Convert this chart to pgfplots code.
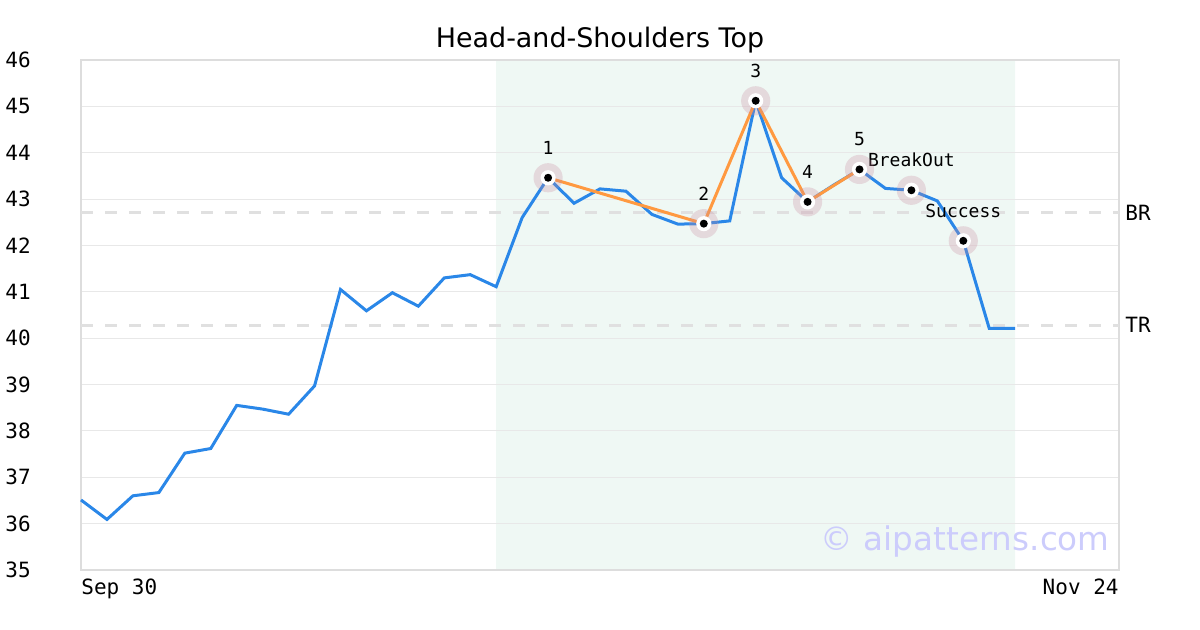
\documentclass[border=0pt]{standalone}
\usepackage{fontspec}
\setmainfont{DejaVu Sans}
\setmonofont{DejaVu Sans Mono}
\usepackage{pgfplots}
\pgfplotsset{compat=1.18}
\definecolor{blueline}{RGB}{42,135,232}
\definecolor{orangeline}{RGB}{255,153,64}
\definecolor{shadec}{RGB}{239,248,244}
\definecolor{gridc}{RGB}{232,232,232}
\definecolor{borderc}{RGB}{221,221,221}
\definecolor{dashc}{RGB}{224,224,224}
\definecolor{pinkc}{RGB}{200,140,160}
\definecolor{wmc}{RGB}{204,204,252}
\begin{document}
\begin{tikzpicture}
\begin{axis}[
  set layers,
  at={(40.5pt,30pt)}, anchor=south west,
  scale only axis, width=519pt, height=255pt,
  xmin=0, xmax=40, ymin=35, ymax=46,
  ytick={35,36,...,46},
  xtick={0}, xticklabels={Sep 30},
  extra x ticks={40}, extra x tick labels={Nov 24},
  extra x tick style={xticklabel style={anchor=north east}},
  xticklabel style={anchor=north west, inner sep=0pt, yshift=-4.5pt},
  yticklabel style={anchor=west, inner sep=0pt, xshift=-38pt},
  ticklabel style={font=\ttfamily\fontsize{10.5}{12}\selectfont},
  /pgf/number format/assume math mode=true,
  major tick length=0pt,
  ymajorgrids, grid style={gridc, line width=0.5pt},
  axis line style={borderc, line width=1.2pt},
  clip=false,
]
\addplot[on layer=axis background, fill=shadec, draw=none] coordinates {(16,35) (36,35) (36,46) (16,46)} \closedcycle;
\addplot[dashc, line width=1.5pt, dash pattern=on 6pt off 6pt] coordinates {(0,42.7) (40,42.7)};
\addplot[dashc, line width=1.5pt, dash pattern=on 6pt off 6pt] coordinates {(0,40.28) (40,40.28)};
\addplot[blueline, line width=1.5pt, mark=none] coordinates {
(0,36.51) (1,36.09) (2,36.60) (3,36.67) (4,37.52) (5,37.62) (6,38.55) (7,38.47) (8,38.36) (9,38.97)
(10,41.05) (11,40.59) (12,40.98) (13,40.69) (14,41.30) (15,41.37) (16,41.11) (17,42.60) (18,43.46) (19,42.91)
(20,43.22) (21,43.17) (22,42.67) (23,42.46) (24,42.47) (25,42.53) (26,45.12) (27,43.46) (28,42.94) (29,43.30)
(30,43.64) (31,43.23) (32,43.19) (33,42.96) (34,42.10) (35,40.21) (36,40.21)};
\addplot[pinkc, only marks, mark=*, mark size=7.3pt, mark options={line width=0pt, draw opacity=0, fill=pinkc, fill opacity=0.28}] coordinates {(18,43.46) (24,42.47) (26,45.12) (28,42.94) (30,43.64) (32,43.19) (34,42.10)};
\addplot[orangeline, line width=1.5pt, mark=none] coordinates {(18,43.46) (24,42.47) (26,45.12) (28,42.94) (30,43.64)};
\addplot[white, only marks, mark=*, mark size=3.8pt, mark options={line width=0pt, draw opacity=0, fill=white}] coordinates {(18,43.46) (24,42.47) (26,45.12) (28,42.94) (30,43.64) (32,43.19) (34,42.10)};
\addplot[black, only marks, mark=*, mark size=2pt, mark options={line width=0pt, draw opacity=0, fill=black}] coordinates {(18,43.46) (24,42.47) (26,45.12) (28,42.94) (30,43.64) (32,43.19) (34,42.10)};
\begin{scope}[every node/.style={font=\ttfamily\fontsize{9}{10}\selectfont, inner sep=0pt, yshift=15pt}]
\node at (axis cs:18,43.46) {1};
\node at (axis cs:24,42.47) {2};
\node at (axis cs:26,45.12) {3};
\node at (axis cs:28,42.94) {4};
\node at (axis cs:30,43.64) {5};
\node at (axis cs:32,43.19) {BreakOut};
\node at (axis cs:34,42.10) {Success};
\end{scope}
\node[anchor=west, inner sep=0pt, xshift=3pt, font=\ttfamily\fontsize{10.5}{12}\selectfont] at (axis cs:40,42.7) {BR};
\node[anchor=west, inner sep=0pt, xshift=3pt, font=\ttfamily\fontsize{10.5}{12}\selectfont] at (axis cs:40,40.28) {TR};
\node[anchor=east, inner sep=0pt, xshift=-4.5pt, yshift=14pt, text=wmc, font=\fontsize{16.3}{18}\selectfont] at (rel axis cs:1,0) {© aipatterns.com};
\node[inner sep=0pt, yshift=10pt, font=\fontsize{13.45}{15}\selectfont] at (rel axis cs:0.5,1) {Head-and-Shoulders Top};
\end{axis}
\path (0,0) rectangle (600pt,315pt);
\end{tikzpicture}
\end{document}
